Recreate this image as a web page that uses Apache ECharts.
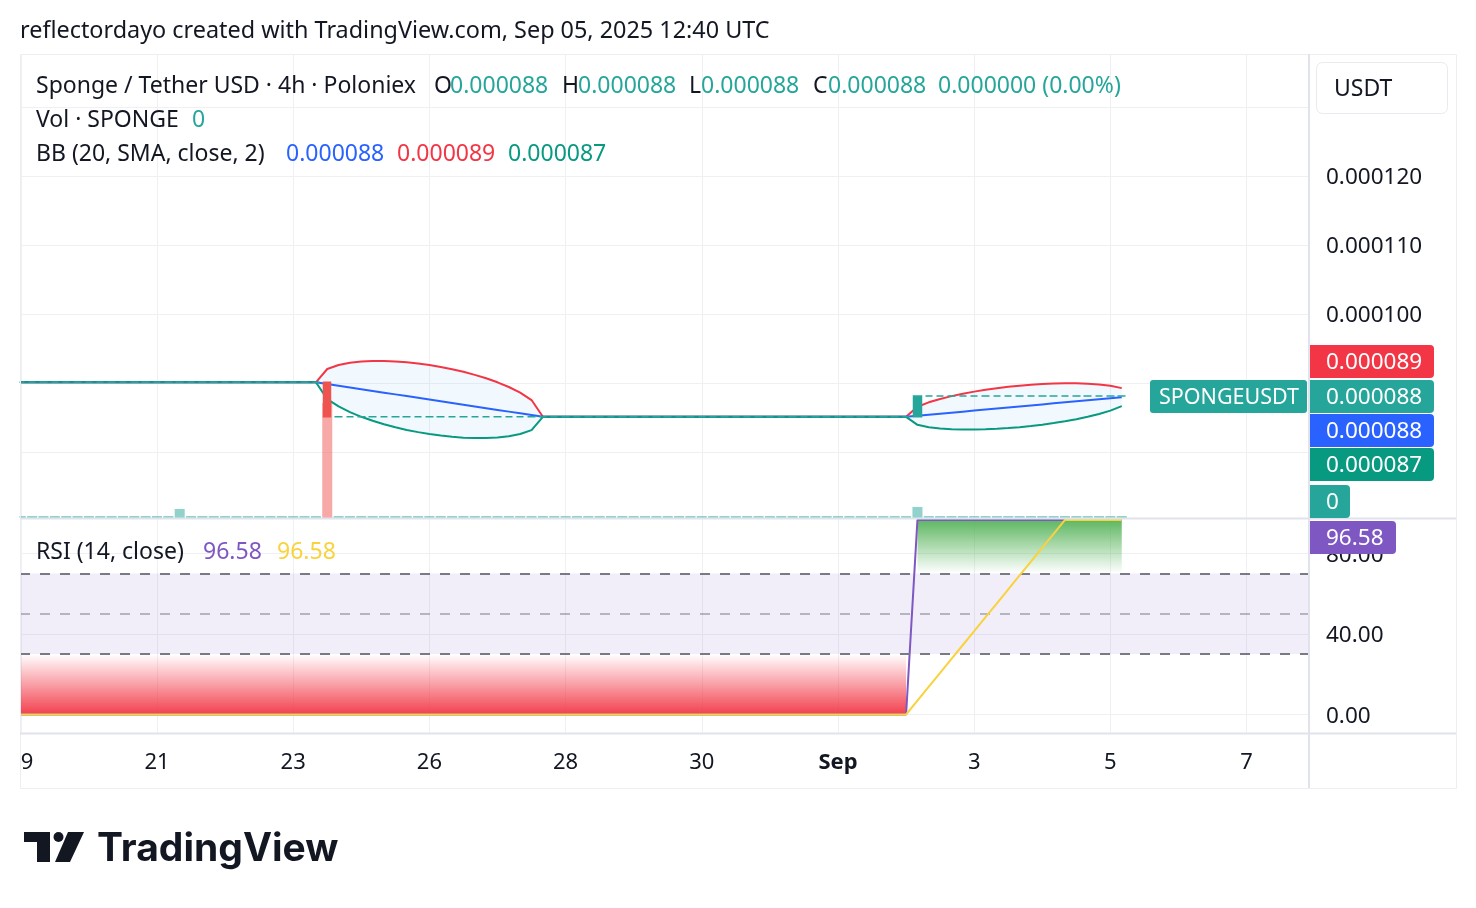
<!DOCTYPE html>
<html><head><meta charset="utf-8">
<script src="https://cdn.jsdelivr.net/npm/echarts@6/dist/echarts.min.js"></script>
<style>html,body{margin:0;padding:0;background:#fff}#c{width:1476px;height:908px}</style>
</head><body><div id="c"></div>
<script>
// ---------------- DATA (prices in micro-USDT, 1 = 0.000001 USDT) ----------------
const U = 1e-6;
const firstBarIndex = -12;            // bar index of Aug 19 00:00 (4h bars, index 0 = Aug 21 00:00)
// OHLC segments: [open, high, low, close, number of 4h bars]
const ohlcSegments = [
  [90.1, 90.1, 90.1, 90.1, 27],
  [90.1, 90.1, 85.1, 85.1, 1],
  [85.1, 85.1, 85.1, 85.1, 51],
  [85.1, 88.1, 85.1, 88.1, 1],
  [88.1, 88.1, 88.1, 88.1, 18]
];
// bars that traded (all other bars have volume 0): [bar index, volume SPONGE]
const volumeSpikes = [[2, 900], [15, 11500], [67, 1100]];

// Bollinger Bands (20, SMA, close, 2)
const bbFlatBefore = [90.1, 27];
const bbUpperDrop = [92.03, 92.60, 92.92, 93.10, 93.18, 93.18, 93.12, 93.00, 92.83, 92.60, 92.33, 92.00, 91.62, 91.18, 90.68, 90.10, 89.42, 88.60, 87.53];
const bbBasisDrop = [89.85, 89.60, 89.35, 89.10, 88.85, 88.60, 88.35, 88.10, 87.85, 87.60, 87.35, 87.10, 86.85, 86.60, 86.35, 86.10, 85.85, 85.60, 85.35];
const bbLowerDrop = [87.67, 86.60, 85.78, 85.10, 84.52, 84.02, 83.58, 83.20, 82.88, 82.60, 82.38, 82.20, 82.08, 82.02, 82.02, 82.10, 82.28, 82.60, 83.17];
const bbFlatMiddle = [85.1, 33];
const bbUpperRise = [86.56, 87.20, 87.69, 88.10, 88.45, 88.75, 89.01, 89.24, 89.44, 89.60, 89.74, 89.84, 89.91, 89.95, 89.95, 89.90, 89.79, 89.60, 89.26];
const bbBasisRise = [85.25, 85.40, 85.55, 85.70, 85.85, 86.00, 86.15, 86.30, 86.45, 86.60, 86.75, 86.90, 87.05, 87.20, 87.35, 87.50, 87.65, 87.80, 87.95];
const bbLowerRise = [83.94, 83.60, 83.41, 83.30, 83.25, 83.25, 83.29, 83.36, 83.47, 83.60, 83.77, 83.96, 84.19, 84.45, 84.75, 85.10, 85.51, 86.00, 86.64];

// RSI (14, close) and its MA
const rsiSegments = [[0, 79], [96.58, 19]];
const rsiMaFlatLow = [0, 78];
const rsiMaRamp = [0, 6.90, 13.80, 20.70, 27.59, 34.49, 41.39, 48.29, 55.19, 62.09, 68.99, 75.88, 82.78, 89.68, 96.58];
const rsiMaFlatHigh = [96.58, 5];

// axes
const timeTickIndex = [-12, 0, 12, 24, 36, 48, 60, 72, 84, 96];
const timeTickLabels = ['19', '21', '23', '26', '28', '30', 'Sep', '3', '5', '7'];
const priceTicks = [80, 90, 100, 110, 120, 130];
const priceTickLabels = ['0.000120', '0.000110', '0.000100'];
const rsiTicks = [0, 40, 80];
const rsiLevels = [70, 50, 30];

// ---------------- BUILD ----------------
function rep(v, n) { return Array.from({ length: n }, () => v); }
const bars = [];
ohlcSegments.forEach(s => { for (let k = 0; k < s[4]; k++) bars.push(s.slice(0, 4)); });
const xs = bars.map((_, i) => firstBarIndex + i);
const volumes = xs.map(x => { const h = volumeSpikes.find(v => v[0] === x); return h ? h[1] : 0; });
const bbUpper = [...rep(bbFlatBefore[0], bbFlatBefore[1]), ...bbUpperDrop, ...rep(bbFlatMiddle[0], bbFlatMiddle[1]), ...bbUpperRise];
const bbBasis = [...rep(bbFlatBefore[0], bbFlatBefore[1]), ...bbBasisDrop, ...rep(bbFlatMiddle[0], bbFlatMiddle[1]), ...bbBasisRise];
const bbLower = [...rep(bbFlatBefore[0], bbFlatBefore[1]), ...bbLowerDrop, ...rep(bbFlatMiddle[0], bbFlatMiddle[1]), ...bbLowerRise];
const rsi = [];
rsiSegments.forEach(s => rsi.push(...rep(s[0], s[1])));
const rsiMa = [...rep(rsiMaFlatLow[0], rsiMaFlatLow[1]), ...rsiMaRamp, ...rep(rsiMaFlatHigh[0], rsiMaFlatHigh[1])];

const n = bars.length;
const last = bars[n - 1], prev = bars[n - 2];
const fmtP = v => (v * U).toFixed(6);

const FONT = '"Noto Sans", sans-serif';
const TXT = '#131722';
const UP = '#26a69a', DOWN = '#ef5350';
const GRIDC = '#eff0f3';
const FS = 23, FSN = 22.5;

const xMin = -12.07, xMax = 101.41;

const xAxisBase = (gi, showLabel) => ({
  type: 'value', gridIndex: gi, min: xMin, max: xMax,
  axisLine: { show: false },
  axisTick: { show: false, customValues: timeTickIndex },
  axisLabel: {
    show: showLabel, customValues: timeTickIndex, margin: 30, verticalAlign: 'middle',
    color: TXT, fontSize: 22, fontFamily: FONT,
    formatter: v => { const k = timeTickIndex.indexOf(Math.round(v)); if (k < 0) return ''; const t = timeTickLabels[k]; return /^[A-Za-z]/.test(t) ? '{b|' + t + '}' : t; },
    rich: { b: { fontWeight: 'bold', fontSize: 22, fontFamily: FONT, color: TXT } }
  },
  splitLine: { show: true, lineStyle: { color: GRIDC, width: 1 } }
});
const yLabelRich = { v: { fontSize: FSN, fontFamily: FONT, color: TXT, padding: [4, 0, 0, 0] } };

// band fill drawn through the axes (polygon between a low and a high line)
function bandSeries(xi, yi, pts, fill, z) {
  return {
    type: 'custom', xAxisIndex: xi, yAxisIndex: yi, silent: true, z, clip: true,
    encode: { x: 0, y: [1, 2] },
    data: pts,
    renderItem: (params, api) => {
      if (params.dataIndex !== 0 || !pts.length) return null;
      const top = pts.map(p => api.coord([p[0], p[2]]));
      const bot = pts.map(p => api.coord([p[0], p[1]])).reverse();
      return { type: 'polygon', shape: { points: top.concat(bot) }, style: { fill } };
    }
  };
}

const chart = echarts.init(document.getElementById('c'), null, { renderer: 'canvas' });

function priceBox(y0, h, x0, w, color, text) {
  return { type: 'group', z: 100, children: [
    { type: 'rect', shape: { x: x0, y: y0, width: w, height: h, r: [0, 4, 4, 0] }, style: { fill: color }, z: 100 },
    { type: 'text', z: 101, style: { x: x0 + 16, y: y0 + h / 2 + 1.5, text, fill: '#fff', font: FSN + 'px ' + FONT, verticalAlign: 'middle' } }
  ] };
}
function txt(x, y, text, fill, size, weight) {
  return { type: 'text', z: 100, style: { x, y, text, fill, font: (weight || 'normal') + ' ' + (size || FS) + 'px ' + FONT, verticalAlign: 'middle' } };
}

const graphics = [
  // frame
  { type: 'rect', z: 91, shape: { x: 0, y: 50, width: 19.5, height: 745 }, style: { fill: '#fff' } },
  { type: 'rect', z: 90, shape: { x: 20.5, y: 54.5, width: 1436, height: 734 }, style: { fill: 'none', stroke: '#eceef2', lineWidth: 1 } },
  { type: 'line', z: 92, shape: { x1: 1309, y1: 54, x2: 1309, y2: 788 }, style: { stroke: '#e0e3eb', lineWidth: 2 } },
  { type: 'line', z: 92, shape: { x1: 20, y1: 518.5, x2: 1456, y2: 518.5 }, style: { stroke: '#e0e3eb', lineWidth: 2 } },
  { type: 'line', z: 92, shape: { x1: 20, y1: 733.5, x2: 1456, y2: 733.5 }, style: { stroke: '#e0e3eb', lineWidth: 2 } },
  // header
  txt(20, 31.5, 'reflectordayo created with TradingView.com, Sep 05, 2025 12:40 UTC', TXT, 23.4),
  // legends
  txt(36, 86.5, 'Sponge / Tether USD · 4h · Poloniex', TXT),
  txt(434, 86.5, 'O', TXT), txt(450, 86.5, fmtP(last[0]), UP),
  txt(562, 86.5, 'H', TXT), txt(578, 86.5, fmtP(last[1]), UP),
  txt(689, 86.5, 'L', TXT), txt(701, 86.5, fmtP(last[2]), UP),
  txt(813, 86.5, 'C', TXT), txt(828, 86.5, fmtP(last[3]), UP),
  txt(938, 86.5, fmtP(last[3] - prev[3]) + ' (' + ((last[3] - prev[3]) / prev[3] * 100).toFixed(2) + '%)', UP),
  txt(36, 120.5, 'Vol · SPONGE', TXT), txt(192, 120.5, String(volumes[n - 1]), UP),
  txt(36, 154.5, 'BB (20, SMA, close, 2)', TXT),
  txt(286, 154.5, fmtP(bbBasis[n - 1]), '#2962ff'),
  txt(397, 154.5, fmtP(bbUpper[n - 1]), '#f23645'),
  txt(508, 154.5, fmtP(bbLower[n - 1]), '#089981'),
  txt(36, 552.5, 'RSI (14, close)', TXT),
  txt(203, 552.5, rsi[n - 1].toFixed(2), '#7e57c2'),
  txt(277, 552.5, rsiMa[n - 1].toFixed(2), '#f9d23c'),
  // currency box
  { type: 'rect', z: 100, shape: { x: 1316.5, y: 62.5, width: 131, height: 51, r: 6 }, style: { fill: '#fff', stroke: '#e8eaef', lineWidth: 1 } },
  txt(1334, 89.5, 'USDT', TXT),
  // price scale labels
  priceBox(345, 33, 1310, 124, '#f23645', fmtP(bbUpper[n - 1])),
  priceBox(380, 33, 1310, 124, UP, fmtP(last[3])),
  { type: 'group', z: 100, children: [
    { type: 'rect', shape: { x: 1150, y: 380, width: 157, height: 33, r: 3 }, style: { fill: UP }, z: 100 },
    { type: 'text', z: 101, style: { x: 1159, y: 398, text: 'SPONGEUSDT', fill: '#fff', font: '21.5px ' + FONT, verticalAlign: 'middle' } }
  ] },
  priceBox(414, 33, 1310, 124, '#2962ff', fmtP(bbBasis[n - 1])),
  priceBox(448, 33, 1310, 124, '#089981', fmtP(bbLower[n - 1])),
  priceBox(485, 33, 1310, 40, UP, String(volumes[n - 1])),
  priceBox(521, 33, 1310, 86, '#7e57c2', rsi[n - 1].toFixed(2)),
  // TradingView logo
  { type: 'polygon', z: 100, shape: { points: [[24, 832], [50, 832], [50, 862], [37, 862], [37, 842], [24, 842]] }, style: { fill: '#131722' } },
  { type: 'circle', z: 100, shape: { cx: 58.5, cy: 837, r: 5 }, style: { fill: '#131722' } },
  { type: 'polygon', z: 100, shape: { points: [[68, 832], [84, 832], [70, 862], [55, 862]] }, style: { fill: '#131722' } },
  { type: 'text', z: 100, style: { x: 97, y: 849, text: 'TradingView', fill: '#131722', font: 'bold 39px Inter, "Noto Sans", sans-serif', verticalAlign: 'middle' } }
];

const bbPts = xs.map((x, i) => [x, bbLower[i] * U, bbUpper[i] * U]);
const osPts = xs.map((x, i) => [x, rsi[i], rsiLevels[2]]).filter((p, i) => rsi[i] < rsiLevels[2]);
const obPts = xs.map((x, i) => [x, rsiLevels[0], rsi[i]]).filter((p, i) => rsi[i] > rsiLevels[0]);

const option = {
  animation: false,
  backgroundColor: '#ffffff',
  grid: [
    { left: 20, top: 54, width: 1288, height: 464 },
    { left: 20, top: 519, width: 1288, height: 214 }
  ],
  xAxis: [xAxisBase(0, false), xAxisBase(1, true)],
  yAxis: [
    { type: 'value', gridIndex: 0, position: 'right', min: 70.435 * U, max: 137.68 * U,
      axisLine: { show: false }, axisTick: { show: false, customValues: priceTicks.map(v => v * U) },
      axisLabel: { customValues: priceTicks.map(v => v * U), margin: 18, color: TXT, fontSize: FSN, fontFamily: FONT, rich: yLabelRich,
        formatter: v => { const s = v.toFixed(6); return priceTickLabels.indexOf(s) >= 0 ? '{v|' + s + '}' : ''; } },
      splitLine: { show: true, lineStyle: { color: GRIDC, width: 1 } } },
    { type: 'value', gridIndex: 0, min: 0, max: 46400, show: false, splitLine: { show: false } },
    { type: 'value', gridIndex: 1, position: 'right', min: -9.18, max: 97.02,
      axisLine: { show: false }, axisTick: { show: false, customValues: rsiTicks },
      axisLabel: { customValues: rsiTicks, margin: 18, color: TXT, fontSize: FSN, fontFamily: FONT, rich: yLabelRich, formatter: v => '{v|' + v.toFixed(2) + '}' },
      splitLine: { show: true, lineStyle: { color: GRIDC, width: 1 } } }
  ],
  series: [
    { type: 'bar', name: 'Vol', xAxisIndex: 0, yAxisIndex: 1, barWidth: 10, barMinHeight: 2, silent: true, z: 1,
      data: xs.map((x, i) => ({ value: [x, volumes[i]], itemStyle: { color: bars[i][3] < bars[i][0] ? 'rgba(239,83,80,0.5)' : 'rgba(38,166,154,0.5)' } })) },
    bandSeries(0, 0, bbPts, 'rgba(33,150,243,0.06)', 2),
    { type: 'line', name: 'Upper', xAxisIndex: 0, yAxisIndex: 0, symbol: 'none', z: 3, lineStyle: { color: '#f23645', width: 2 }, data: xs.map((x, i) => [x, bbUpper[i] * U]) },
    { type: 'line', name: 'Basis', xAxisIndex: 0, yAxisIndex: 0, symbol: 'none', z: 3, lineStyle: { color: '#2962ff', width: 2 }, data: xs.map((x, i) => [x, bbBasis[i] * U]) },
    { type: 'line', name: 'Lower', xAxisIndex: 0, yAxisIndex: 0, symbol: 'none', z: 3, lineStyle: { color: '#089981', width: 2 }, data: xs.map((x, i) => [x, bbLower[i] * U]) },
    { type: 'candlestick', xAxisIndex: 0, yAxisIndex: 0, barWidth: 8, z: 5,
      encode: { x: 0, y: [1, 2, 3, 4] },
      itemStyle: { color: UP, color0: DOWN, borderColor: UP, borderColor0: DOWN, borderWidth: 1.5 },
      data: xs.map((x, i) => [x, bars[i][0] * U, bars[i][3] * U, bars[i][2] * U, bars[i][1] * U]) },
    // RSI pane
    { type: 'line', xAxisIndex: 1, yAxisIndex: 2, symbol: 'none', silent: true, z: 1, lineStyle: { opacity: 0 },
      data: [[xMin, rsiLevels[1]], [xMax, rsiLevels[1]]],
      markArea: { silent: true, itemStyle: { color: 'rgba(126,87,194,0.1)' }, data: [[{ yAxis: rsiLevels[2] }, { yAxis: rsiLevels[0] }]] },
      markLine: { silent: true, symbol: ['none', 'none'], label: { show: false },
        data: [
          { yAxis: rsiLevels[0], lineStyle: { color: '#787b86', width: 2, type: [10, 10] } },
          { yAxis: rsiLevels[1], lineStyle: { color: 'rgba(120,123,134,0.5)', width: 2, type: [10, 10] } },
          { yAxis: rsiLevels[2], lineStyle: { color: '#787b86', width: 2, type: [10, 10] } }
        ] } },
    bandSeries(1, 2, osPts, new echarts.graphic.LinearGradient(0, 0, 0, 1, [{ offset: 0, color: 'rgba(242,54,69,0)' }, { offset: 1, color: 'rgba(242,54,69,0.95)' }]), 2),
    bandSeries(1, 2, obPts, new echarts.graphic.LinearGradient(0, 0, 0, 1, [{ offset: 0, color: 'rgba(76,175,80,0.9)' }, { offset: 1, color: 'rgba(76,175,80,0)' }]), 2),
    { type: 'line', name: 'RSI', xAxisIndex: 1, yAxisIndex: 2, symbol: 'none', z: 4, lineStyle: { color: '#7e57c2', width: 2 }, data: xs.map((x, i) => [x, rsi[i]]) },
    { type: 'line', name: 'RSI MA', xAxisIndex: 1, yAxisIndex: 2, symbol: 'none', z: 5, lineStyle: { color: '#f9d23c', width: 2 }, data: xs.map((x, i) => [x, rsiMa[i]]) }
  ],
  graphic: graphics
};
chart.setOption(option);
</script></body></html>
